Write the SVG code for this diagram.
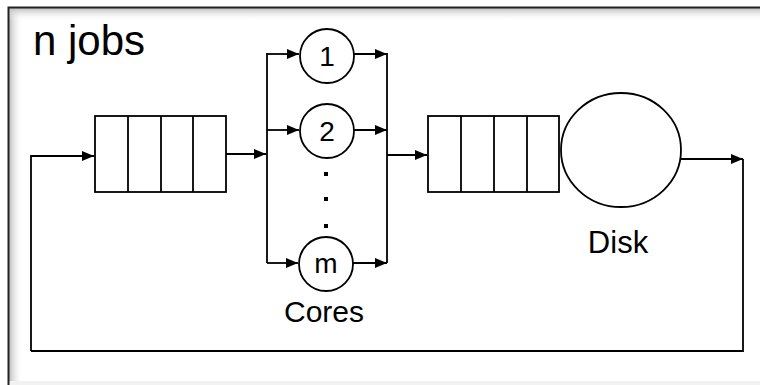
<svg xmlns="http://www.w3.org/2000/svg" width="760" height="385" viewBox="0 0 760 385">
  <defs>
    <marker id="ah" viewBox="0 0 12 10" refX="12" refY="5" markerWidth="13" markerHeight="10" markerUnits="userSpaceOnUse" orient="auto">
      <path d="M0,0 L12,5 L0,10 Z" fill="#000"/>
    </marker>
    <linearGradient id="shL" x1="0" y1="0" x2="1" y2="0">
      <stop offset="0" stop-color="#bdbdbd"/>
      <stop offset="1" stop-color="#ffffff" stop-opacity="0"/>
    </linearGradient>
    <linearGradient id="shT" x1="0" y1="0" x2="0" y2="1">
      <stop offset="0" stop-color="#bdbdbd"/>
      <stop offset="1" stop-color="#ffffff" stop-opacity="0"/>
    </linearGradient>
  </defs>
  <style>
    .ln{fill:none;stroke:#000;stroke-width:1.8}
    .box{fill:#fff;stroke:#000;stroke-width:1.8}
    .t{font-family:"Liberation Sans",Arial,sans-serif;fill:#000}
  </style>
  <rect width="760" height="385" fill="#fff"/>
  <g id="frame">
    <rect x="9" y="8" width="14" height="377" fill="url(#shL)"/>
    <rect x="9" y="8" width="751" height="13" fill="url(#shT)"/>
    <rect x="9" y="381" width="751" height="4" fill="#f2f2f2"/>
    <path d="M8.5,385 V7.5 H760" fill="none" stroke="#222" stroke-width="2"/>
  </g>
  <text class="t" x="33" y="55" font-size="42">n jobs</text>
  <g id="queue1">
    <rect class="box" x="95" y="116" width="131" height="76"/>
    <path class="ln" d="M128,116 V192 M161,116 V192 M193,116 V192"/>
  </g>
  <g id="core1">
    <circle class="box" cx="327" cy="56" r="27"/>
    <text class="t" x="327" y="66" font-size="28" text-anchor="middle">1</text>
  </g>
  <g id="core2">
    <circle class="box" cx="327" cy="131" r="27"/>
    <text class="t" x="327" y="141" font-size="28" text-anchor="middle">2</text>
  </g>
  <g id="dots">
    <rect x="324" y="172" width="4" height="4" fill="#000"/>
    <rect x="324" y="197" width="4" height="4" fill="#000"/>
    <rect x="324" y="224" width="4" height="4" fill="#000"/>
  </g>
  <g id="corem">
    <circle class="box" cx="326" cy="264" r="27"/>
    <text class="t" x="326" y="273" font-size="28" text-anchor="middle">m</text>
  </g>
  <text class="t" x="324" y="322" font-size="30" text-anchor="middle">Cores</text>
  <g id="queue2">
    <rect class="box" x="428" y="116" width="131" height="76"/>
    <path class="ln" d="M461,116 V192 M494,116 V192 M527,116 V192"/>
  </g>
  <g id="disk">
    <ellipse class="box" cx="621" cy="150" rx="60" ry="57"/>
  </g>
  <text class="t" x="618" y="253" font-size="31" text-anchor="middle">Disk</text>
  <g id="connectors">
    <path class="ln" d="M31,351 V156 H94" marker-end="url(#ah)"/>
    <path class="ln" d="M226,154 H266" marker-end="url(#ah)"/>
    <path class="ln" d="M267,53 V263"/>
    <path class="ln" d="M267,54 H299" marker-end="url(#ah)"/>
    <path class="ln" d="M267,130 H299" marker-end="url(#ah)"/>
    <path class="ln" d="M267,263 H298" marker-end="url(#ah)"/>
    <path class="ln" d="M354,54 H387" marker-end="url(#ah)"/>
    <path class="ln" d="M354,130 H387" marker-end="url(#ah)"/>
    <path class="ln" d="M353,263 H387" marker-end="url(#ah)"/>
    <path class="ln" d="M387,53 V263"/>
    <path class="ln" d="M387,155 H427" marker-end="url(#ah)"/>
    <path class="ln" d="M681,159 H743" marker-end="url(#ah)"/>
    <path class="ln" d="M743,159 V351 H31" stroke-width="2"/>
  </g>
</svg>
